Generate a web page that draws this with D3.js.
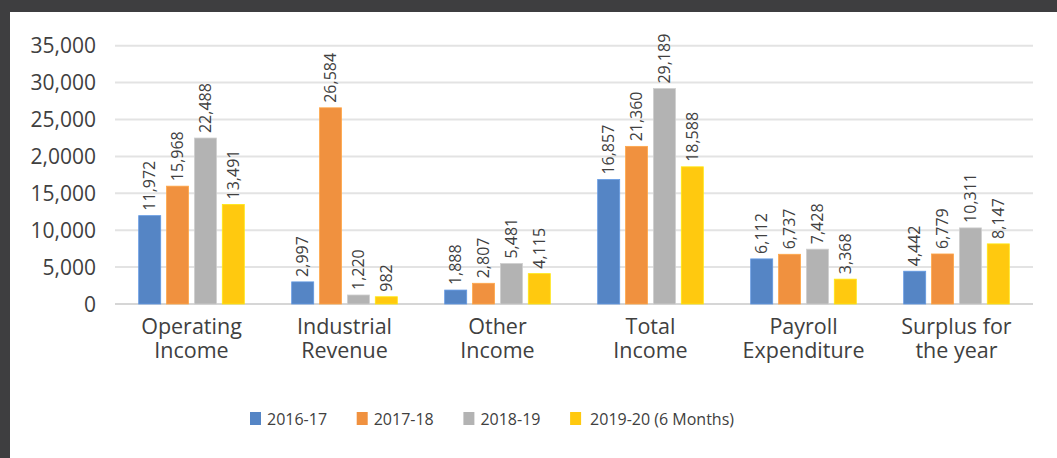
<!DOCTYPE html>
<html>
<head>
<meta charset="utf-8">
<script src="https://cdn.jsdelivr.net/npm/d3@7"></script>
<style>
  html, body { margin: 0; padding: 0; background: #fff; }
  svg { display: block; font-family: "Open Sans", "Noto Sans", sans-serif; }
</style>
</head>
<body>
<div id="chartContainer"></div>
<script>
// chart data
var categories = [
  ['Operating', 'Income'],
  ['Industrial', 'Revenue'],
  ['Other', 'Income'],
  ['Total', 'Income'],
  ['Payroll', 'Expenditure'],
  ['Surplus for', 'the year']
]
var seriesNames = ['2016-17', '2017-18', '2018-19', '2019-20 (6 Months)']
var values2016 = [11972, 2997, 1888, 16857, 6112, 4442]
var values2017 = [15968, 26584, 2807, 21360, 6737, 6779]
var values2018 = [22488, 1220, 5481, 29189, 7428, 10311]
var values2019 = [13491, 982, 4115, 18588, 3368, 8147]
var tickValues = [0, 5000, 10000, 15000, 20000, 25000, 30000, 35000]
var tickLabels = ['0', '5,000', '10,000', '15,000', '2,0000', '25,000', '30,000', '35,000']

var colors = ['#5585c5', '#f0913f', '#b3b3b3', '#ffc90f']
var seriesValues = [values2016, values2017, values2018, values2019]

var width = 1057
var height = 458
var margin = { top: 45.7, right: 24, bottom: 154, left: 115 }

var svg = d3.select('#chartContainer').append('svg')
  .attr('width', width)
  .attr('height', height)

// dark frame at top and left
svg.append('rect').attr('x', 0).attr('y', 0).attr('width', width).attr('height', 12).attr('fill', '#3e3e40')
svg.append('rect').attr('x', 0).attr('y', 0).attr('width', 10).attr('height', height).attr('fill', '#3e3e40')

var x0 = d3.scaleBand()
  .domain(d3.range(categories.length))
  .range([margin.left, width - margin.right])

var x1 = d3.scaleBand()
  .domain(d3.range(seriesNames.length))
  .range([0, x0.bandwidth()])
  .paddingInner(0.21)
  .paddingOuter(0.85)

var y = d3.scaleLinear()
  .domain([0, 35000])
  .range([height - margin.bottom, margin.top])

// gridlines
svg.append('g')
  .selectAll('line')
  .data(tickValues)
  .enter()
  .append('line')
  .attr('x1', margin.left)
  .attr('x2', width - margin.right)
  .attr('y1', function (d) { return y(d) })
  .attr('y2', function (d) { return y(d) })
  .style('stroke', function (d) { return d === 0 ? '#d6d6d6' : '#e3e3e3' })
  .style('stroke-width', 2)

// y tick labels
svg.append('g')
  .selectAll('text')
  .data(tickValues)
  .enter()
  .append('text')
  .attr('x', 96)
  .attr('y', function (d) { return y(d) })
  .attr('dy', '0.36em')
  .attr('text-anchor', 'end')
  .style('font-size', '21px')
  .style('fill', '#404040')
  .text(function (d, i) { return tickLabels[i] })

// bars
var groups = svg.append('g')
  .selectAll('g')
  .data(categories)
  .enter()
  .append('g')
  .attr('transform', function (d, i) { return 'translate(' + x0(i) + ',0)' })

groups.each(function (c, ci) {
  var g = d3.select(this)
  seriesValues.forEach(function (vals, si) {
    var v = vals[ci]
    g.append('rect')
      .attr('x', x1(si))
      .attr('y', y(v))
      .attr('width', x1.bandwidth())
      .attr('height', y(0) - y(v))
      .style('fill', colors[si])
      .style('stroke', d3.color(colors[si]).brighter(0.4))
      .style('stroke-width', 0.8)

    g.append('text')
      .attr('transform', 'translate(' + (x1(si) + x1.bandwidth() / 2) + ',' + (y(v) - 5) + ') rotate(-90)')
      .attr('dy', '0.36em')
      .attr('text-anchor', 'start')
      .style('font-size', '16px')
      .style('fill', '#404040')
      .text(d3.format(',')(v))
  })

  // category label, two lines
  c.forEach(function (line, li) {
    g.append('text')
      .attr('x', x0.bandwidth() / 2)
      .attr('y', 334 + li * 23.5)
      .attr('text-anchor', 'middle')
      .style('font-size', '21.5px')
      .style('fill', '#404040')
      .text(line)
  })
})

// legend
var legendX = d3.scaleLinear().domain([0, 1]).range([250, 356.7])
var legend = svg.append('g')
  .selectAll('g')
  .data(seriesNames)
  .enter()
  .append('g')
  .attr('transform', function (d, i) { return 'translate(' + legendX(i) + ',412)' })

legend.append('rect')
  .attr('width', 11)
  .attr('height', 13)
  .style('fill', function (d, i) { return colors[i] })

legend.append('text')
  .attr('x', function (d, i) { return i === 3 ? 20 : 17 })
  .attr('y', 13)
  .style('font-size', '16px')
  .style('fill', '#404040')
  .text(function (d) { return d })
</script>
</body>
</html>
